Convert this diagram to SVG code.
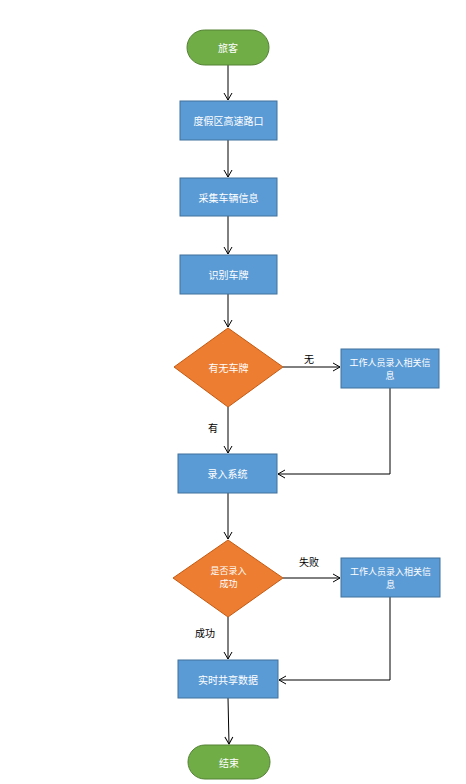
<svg xmlns="http://www.w3.org/2000/svg" width="466" height="784" viewBox="0 0 466 784">
<defs>
<marker id="arr" markerWidth="10" markerHeight="10" refX="8" refY="5" orient="auto" markerUnits="userSpaceOnUse">
<path d="M1,1 L8,5 L1,9" fill="none" stroke="#000" stroke-width="1"/>
</marker>
<style>
.term{fill:#70AD47;stroke:#548235;stroke-width:1}
.proc{fill:#5B9BD5;stroke:#41719C;stroke-width:1}
.dec{fill:#ED7D31;stroke:#C55A11;stroke-width:1}
.t{font-family:"Noto Sans CJK SC","Liberation Sans",sans-serif;font-size:10px;fill:#fff;text-anchor:middle;dominant-baseline:central}
.t2{font-family:"Noto Sans CJK SC","Liberation Sans",sans-serif;font-size:9px;fill:#fff;text-anchor:middle;dominant-baseline:central}
.lbl{font-family:"Noto Sans CJK SC","Liberation Sans",sans-serif;font-size:10px;fill:#000;text-anchor:middle;dominant-baseline:central}
.c{fill:none;stroke:#000;stroke-width:1;marker-end:url(#arr)}
</style>
</defs>
<rect width="466" height="784" fill="#fff"/>
<g id="connectors">
<path class="c" d="M228,65 V100"/>
<path class="c" d="M228,140 V177"/>
<path class="c" d="M228,216 V254"/>
<path class="c" d="M228,294 V327"/>
<path class="c" d="M283,367 H340"/>
<path class="c" d="M228,407 V453"/>
<path class="c" d="M390,388 V474 H278"/>
<path class="c" d="M228,493 V539"/>
<path class="c" d="M283,578 H340"/>
<path class="c" d="M228,617 V659"/>
<path class="c" d="M390,597 V680 H279"/>
<path class="c" d="M228,698 L229,744"/>
</g>
<g id="labels">
<text class="lbl" x="309" y="358">无</text>
<text class="lbl" x="213" y="427">有</text>
<text class="lbl" x="309" y="561">失败</text>
<text class="lbl" x="205" y="632">成功</text>
</g>
<g id="start">
<rect class="term" x="187" y="30" width="82" height="35" rx="17.5"/>
<text class="t" x="228" y="47.5">旅客</text>
</g>
<g id="box1">
<rect class="proc" x="180" y="101" width="97" height="39"/>
<text class="t" x="228.5" y="120.5">度假区高速路口</text>
</g>
<g id="box2">
<rect class="proc" x="180" y="178" width="97" height="38"/>
<text class="t" x="228.5" y="197">采集车辆信息</text>
</g>
<g id="box3">
<rect class="proc" x="180" y="255" width="97" height="39"/>
<text class="t" x="228.5" y="274.5">识别车牌</text>
</g>
<g id="dec1">
<polygon class="dec" points="228,328 283,367 228,407 174,367"/>
<text class="t" x="228.5" y="367">有无车牌</text>
</g>
<g id="side1">
<rect class="proc" x="341" y="349" width="98" height="39"/>
<text class="t2" x="390" y="362">工作人员录入相关信</text>
<text class="t2" x="390" y="375">息</text>
</g>
<g id="box4">
<rect class="proc" x="178" y="454" width="99" height="39"/>
<text class="t" x="227.5" y="473.5">录入系统</text>
</g>
<g id="dec2">
<polygon class="dec" points="228,540 283,578 228,617 173,578"/>
<text class="t2" x="228.5" y="570">是否录入</text>
<text class="t2" x="228.5" y="583">成功</text>
</g>
<g id="side2">
<rect class="proc" x="341" y="558" width="99" height="39"/>
<text class="t2" x="390.5" y="571">工作人员录入相关信</text>
<text class="t2" x="390.5" y="584">息</text>
</g>
<g id="box5">
<rect class="proc" x="178" y="660" width="100" height="38"/>
<text class="t" x="228" y="679">实时共享数据</text>
</g>
<g id="end">
<rect class="term" x="188" y="745" width="82" height="34" rx="17"/>
<text class="t" x="229" y="762">结束</text>
</g>
</svg>
